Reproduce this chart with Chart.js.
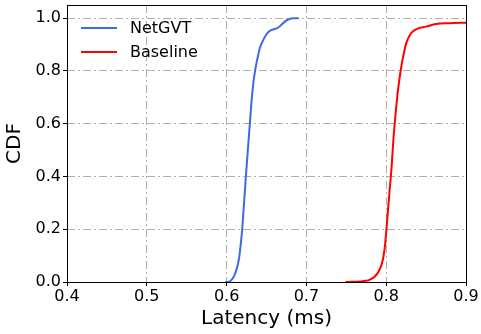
<!DOCTYPE html>
<html>
<head>
<meta charset="utf-8">
<script src="https://cdn.jsdelivr.net/npm/chart.js@4.4.1/dist/chart.umd.min.js"></script>
<style>
  body { margin: 0; background: #fff; }
</style>
</head>
<body>
<canvas id="cdfChart" width="481" height="334"></canvas>
<script>
// latency (ms) / CDF
const netX = [0.598, 0.602, 0.6062, 0.6095, 0.6125, 0.6154, 0.6175, 0.6195, 0.6216, 0.6241, 0.6266, 0.6291, 0.6312,
              0.6337, 0.6362, 0.6387, 0.6416, 0.6458, 0.650, 0.6541, 0.6604, 0.6645, 0.6687, 0.6729, 0.6779, 0.6833, 0.6904];
const netY = [0.0, 0.0, 0.008, 0.023, 0.048, 0.086, 0.137, 0.198, 0.289, 0.398, 0.499, 0.599, 0.683,
              0.759, 0.81, 0.848, 0.886, 0.917, 0.939, 0.952, 0.959, 0.964, 0.975, 0.987, 0.996, 1.0, 1.0];
const baseX = [0.749, 0.7705, 0.779, 0.7854, 0.7908, 0.795, 0.7979, 0.800, 0.802, 0.8041, 0.8066, 0.8091, 0.8116,
               0.8145, 0.8179, 0.8216, 0.8258, 0.8312, 0.8375, 0.850, 0.8625, 0.8791, 0.9];
const baseY = [0.0, 0.003, 0.008, 0.02, 0.042, 0.074, 0.124, 0.188, 0.264, 0.34, 0.429, 0.543, 0.632,
               0.721, 0.797, 0.86, 0.911, 0.943, 0.958, 0.968, 0.978, 0.981, 0.983];
const seriesNames = ['NetGVT', 'Baseline'];
const xTicks = [0.4, 0.5, 0.6, 0.7, 0.8, 0.9];
const yTicks = [0.0, 0.2, 0.4, 0.6, 0.8, 1.0];

function toPoints(xs, ys) {
    return xs.map((x, i) => ({ x: x, y: ys[i] }));
}

const FONT = "'DejaVu Sans', sans-serif";

// box around plot area + legend drawn inside it
const framePlugin = {
    id: 'frame',
    afterDraw(chart) {
        const ctx = chart.ctx;
        const a = chart.chartArea;
        ctx.save();
        ctx.strokeStyle = '#000';
        ctx.lineWidth = 1;
        ctx.setLineDash([]);
        ctx.strokeRect(a.left + 0.5, a.top + 0.5, a.right - a.left, a.bottom - a.top);

        ctx.font = '16px ' + FONT;
        ctx.textBaseline = 'middle';
        ctx.fillStyle = '#000';
        chart.data.datasets.forEach(function (ds, i) {
            const y = a.top + 23 + i * 24;
            ctx.strokeStyle = ds.borderColor;
            ctx.lineWidth = 2;
            ctx.beginPath();
            ctx.moveTo(a.left + 14, y);
            ctx.lineTo(a.left + 50, y);
            ctx.stroke();
            ctx.fillText(ds.label, a.left + 63, y + 1);
        });
        ctx.restore();
    }
};

const data = {
    datasets: [
        {
            label: seriesNames[0],
            data: toPoints(netX, netY),
            borderColor: '#4169e1',
            backgroundColor: '#4169e1'
        },
        {
            label: seriesNames[1],
            data: toPoints(baseX, baseY),
            borderColor: '#ff0000',
            backgroundColor: '#ff0000'
        }
    ]
};

const gridOpts = {
    color: '#b0b0b0',
    lineWidth: 1,
    tickColor: '#000',
    tickLength: 4,
    tickWidth: 1,
    tickBorderDash: []
};

const config = {
    type: 'line',
    data: data,
    options: {
        responsive: false,
        animation: false,
        layout: { padding: { left: 0, top: 5, right: 15, bottom: 0 } },
        elements: {
            point: { radius: 0 },
            line: { borderWidth: 2, cubicInterpolationMode: 'monotone', fill: false }
        },
        plugins: {
            legend: { display: false },
            tooltip: { enabled: false }
        },
        scales: {
            x: {
                type: 'linear',
                min: 0.4,
                max: 0.9,
                afterBuildTicks: s => { s.ticks = xTicks.map(v => ({ value: v })); },
                afterFit: s => { s.height = 52; s.paddingLeft = 0; s.paddingRight = 0; },
                border: { display: false, dash: [8, 3, 2, 3] },
                grid: gridOpts,
                ticks: {
                    color: '#000',
                    padding: 1,
                    maxRotation: 0,
                    font: { family: FONT, size: 16 },
                    callback: v => v.toFixed(1)
                },
                title: {
                    display: true,
                    text: 'Latency (ms)',
                    color: '#000',
                    font: { family: FONT, size: 20 },
                    padding: { top: 0, bottom: 3 }
                }
            },
            y: {
                type: 'linear',
                min: 0,
                max: 1.05,
                afterBuildTicks: s => { s.ticks = yTicks.map(v => ({ value: v })); },
                afterFit: s => { s.width = 67; s.paddingTop = 0; s.paddingBottom = 0; },
                border: { display: false, dash: [8, 3, 2, 3] },
                grid: gridOpts,
                ticks: {
                    color: '#000',
                    padding: 2,
                    font: { family: FONT, size: 16 },
                    callback: v => v.toFixed(1)
                },
                title: {
                    display: true,
                    text: 'CDF',
                    color: '#000',
                    font: { family: FONT, size: 20 },
                    padding: { top: 3, bottom: 0 }
                }
            }
        }
    },
    plugins: [framePlugin]
};

const chart = new Chart(document.getElementById('cdfChart'), config);
</script>
</body>
</html>
